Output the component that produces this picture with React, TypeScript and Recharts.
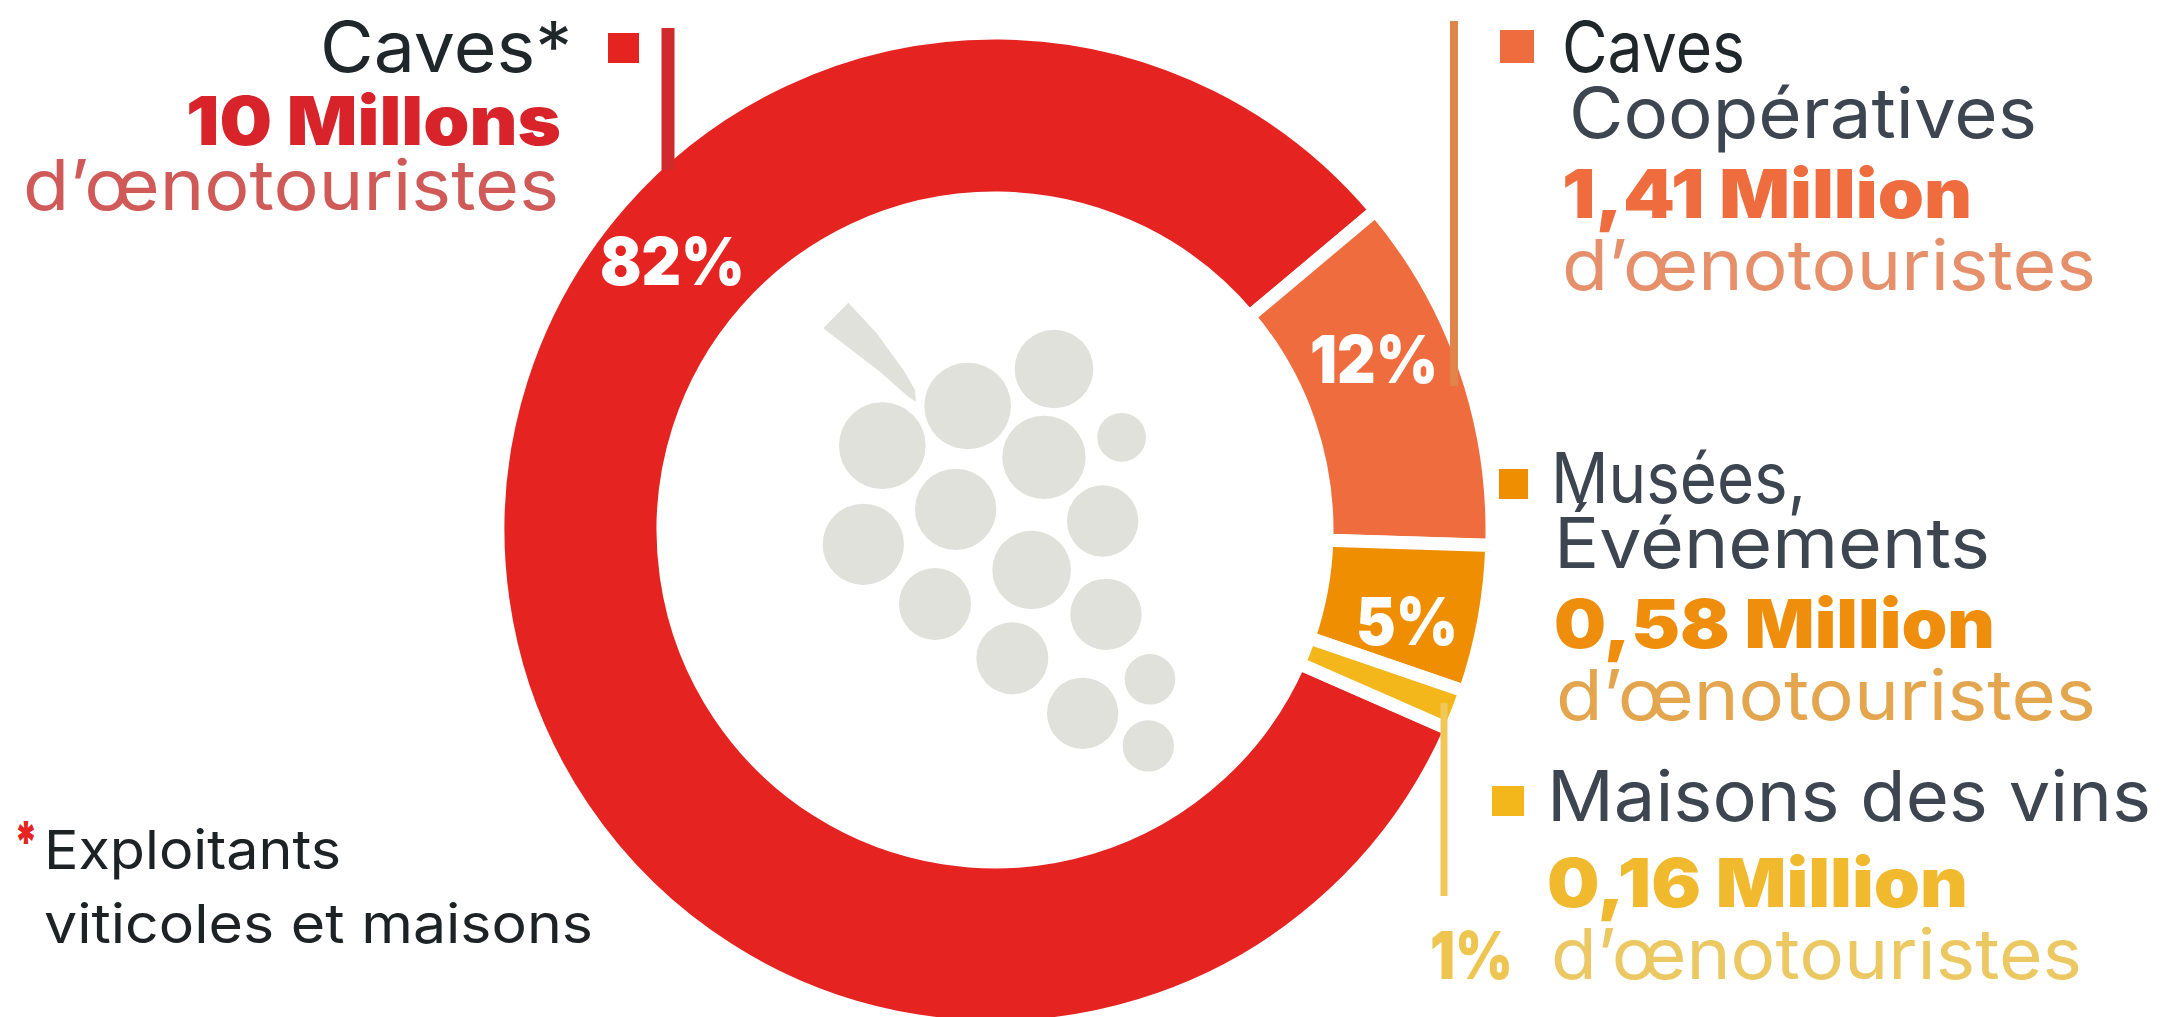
import React from "react";
import { PieChart, Pie, Cell } from "recharts";

// visitors in millions, clockwise from the big red slice
const categories = ["Caves", "Caves Coopératives", "Musées, Événements", "Maisons des vins"];
const visitors = [10, 1.41, 0.58, 0.16];
const sliceColors = ["#e52421", "#ee6c3e", "#ee8e00", "#f3b71b"];

const tableData = categories.map((name, i) => ({ name, value: visitors[i] }));

const FONT = "Inter, 'Noto Sans', sans-serif";
const DARK = "#3c4550";
const TOURISTS = "d’œnotouristes";

type T = { s: string; x: number; y: number; w: number; size: number; bold?: boolean; fill: string };

const texts: T[] = [
	{ s: "Caves*", x: 320, y: 72, w: 252, size: 70, fill: "#20272b" },
	{ s: "10 Millons", x: 186, y: 145, w: 375, size: 68, bold: true, fill: "#d8232a" },
	{ s: TOURISTS, x: 23, y: 210, w: 536, size: 70, fill: "#cf5a58" },

	{ s: "Caves", x: 1562, y: 72, w: 183, size: 70, fill: "#20272b" },
	{ s: "Coopératives", x: 1569, y: 138, w: 468, size: 70, fill: DARK },
	{ s: "1,41 Million", x: 1562, y: 218, w: 410, size: 68, bold: true, fill: "#ee6c3e" },
	{ s: TOURISTS, x: 1562, y: 290, w: 534, size: 70, fill: "#e58f6b" },

	{ s: "Musées,", x: 1551, y: 503, w: 255, size: 70, fill: DARK },
	{ s: "Événements", x: 1554, y: 568, w: 436, size: 70, fill: DARK },
	{ s: "0,58 Million", x: 1554, y: 648, w: 441, size: 68, bold: true, fill: "#ee8e0c" },
	{ s: TOURISTS, x: 1556, y: 720, w: 540, size: 70, fill: "#e3a64f" },

	{ s: "Maisons des vins", x: 1547, y: 821, w: 604, size: 70, fill: DARK },
	{ s: "0,16 Million", x: 1547, y: 907, w: 421, size: 68, bold: true, fill: "#f1ba2e" },
	{ s: TOURISTS, x: 1551, y: 979, w: 531, size: 70, fill: "#ecc862" },

	{ s: "82%", x: 600, y: 285, w: 145, size: 66, bold: true, fill: "#ffffff" },
	{ s: "12%", x: 1310, y: 383, w: 128, size: 66, bold: true, fill: "#ffffff" },
	{ s: "5%", x: 1356, y: 645, w: 102, size: 66, bold: true, fill: "#ffffff" },
	{ s: "1%", x: 1430, y: 979, w: 83, size: 66, bold: true, fill: "#efc552" },

	{ s: "*", x: 14, y: 862, w: 24, size: 56, bold: true, fill: "#e52421" },
	{ s: "Exploitants", x: 44, y: 869, w: 297, size: 54, fill: "#1d2225" },
	{ s: "viticoles et maisons", x: 44, y: 943, w: 549, size: 54, fill: "#1d2225" },
];

// legend squares and leader lines
const squares = [
	{ x: 608, y: 33, w: 31, h: 30, fill: "#e52421" },
	{ x: 1500, y: 30, w: 34, h: 33, fill: "#ee6c3e" },
	{ x: 1499, y: 469, w: 29, h: 30, fill: "#ee8e00" },
	{ x: 1492, y: 786, w: 32, h: 30, fill: "#f3b71b" },
];
const leaders = [
	{ x: 668, y1: 28, y2: 170, w: 13, stroke: "#d02a2c" },
	{ x: 1454, y1: 21, y2: 386, w: 8, stroke: "#e0854a" },
	{ x: 1444, y1: 703, y2: 896, w: 7, stroke: "#f1c75a" },
];

// grape drawn in the middle of the ring
const berries = [
	[307, 497, 130], [563, 378, 130], [822, 267, 118], [792, 532, 125], [1025, 472, 73],
	[527, 688, 122], [250, 793, 122], [968, 723, 107], [755, 870, 118], [465, 972, 108],
	[978, 1003, 107], [697, 1135, 108], [908, 1300, 107], [1110, 1198, 76], [1105, 1398, 77],
];
const stem = "130,145 205,68 290,160 370,270 405,330 408,365 385,350 300,275";

const App: React.FC = () => {
	return (
		<div style={{ position: "absolute", left: 0, top: 0, width: 2163, height: 1017, overflow: "hidden", background: "#fff" }}>
			<PieChart width={2163} height={1017} margin={{ top: 0, right: 0, bottom: 0, left: 0 }}>
				<Pie
					data={tableData}
					dataKey="value"
					nameKey="name"
					cx={995}
					cy={530}
					innerRadius={332}
					outerRadius={497}
					startAngle={-23.7}
					endAngle={-383.7}
					stroke="#ffffff"
					strokeWidth={13}
					isAnimationActive={false}
				>
					{tableData.map((d, i) => (
						<Cell key={d.name} fill={sliceColors[i]} />
					))}
				</Pie>
			</PieChart>
			<svg width={2163} height={1017} style={{ position: "absolute", left: 0, top: 0 }}>
				<g transform="translate(780 280) scale(0.3333)" fill="#dfe1da">
					<polygon points={stem} />
					{berries.map(([cx, cy, r], i) => (
						<circle key={i} cx={cx} cy={cy} r={r} />
					))}
				</g>
				{squares.map((q, i) => (
					<rect key={i} x={q.x} y={q.y} width={q.w} height={q.h} fill={q.fill} />
				))}
				{leaders.map((l, i) => (
					<line key={i} x1={l.x} x2={l.x} y1={l.y1} y2={l.y2} stroke={l.stroke} strokeWidth={l.w} />
				))}
				{texts.map((t, i) => (
					<text
						key={i}
						x={t.x}
						y={t.y}
						fontFamily={FONT}
						fontSize={t.size}
						fontWeight={t.bold ? 900 : 400}
						fill={t.fill}
						textLength={t.w}
						lengthAdjust="spacingAndGlyphs"
					>
						{t.s}
					</text>
				))}
			</svg>
		</div>
	);
};

export default App;
